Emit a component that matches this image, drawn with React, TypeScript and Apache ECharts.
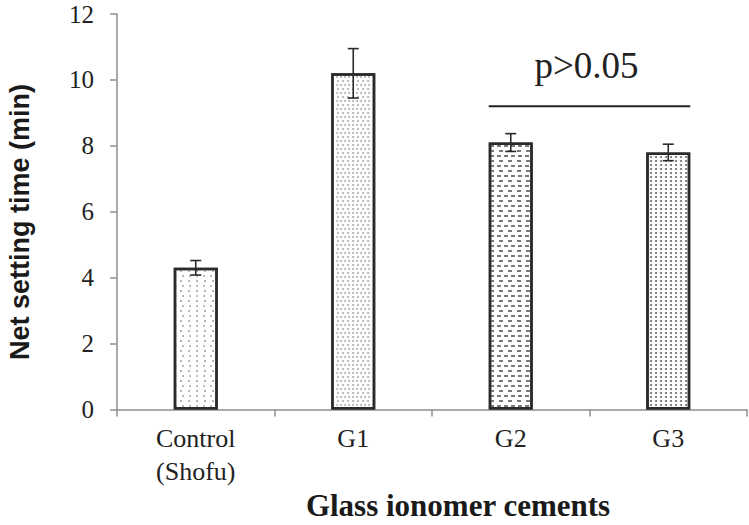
import React, { useEffect, useRef } from "react";
import * as echarts from "echarts";

const categories = ["Control\n(Shofu)", "G1", "G2", "G3"];
const means = [4.3, 10.2, 8.1, 7.8];
const errors = [0.22, 0.75, 0.27, 0.25];
const yTicks = { min: 0, max: 12, interval: 2 };
const sigLabel = "p>0.05";
const sigLevel = 9.2;
const sigFrom = 2;
const sigTo = 3;

const decals: any[] = [
  {
    symbol: "circle",
    symbolSize: 0.9,
    color: "#9a9a9a",
    backgroundColor: "#ffffff",
    dashArrayX: [
      [1.6, 5],
      [0, 3.3, 1.6, 1.7],
    ],
    dashArrayY: [1.6, 2.6],
  },
  {
    symbol: "circle",
    symbolSize: 1,
    color: "#b0b0b0",
    backgroundColor: "#e4e4e4",
    dashArrayX: [
      [1.2, 1.6],
      [0, 1.4, 1.2, 0.2],
    ],
    dashArrayY: [1.2, 1.4],
  },
  {
    symbol: "rect",
    symbolSize: 1,
    symbolKeepAspect: false,
    color: "#7a7a7a",
    backgroundColor: "#ffffff",
    dashArrayX: [
      [3.5, 3],
      [0, 3.2, 3.5, 0.3],
    ],
    dashArrayY: [1.5, 2.8],
  },
  {
    symbol: "circle",
    symbolSize: 1,
    color: "#6e6e6e",
    backgroundColor: "#f2f2f2",
    dashArrayX: [1.8, 2.6],
    dashArrayY: [1.6, 1.9],
  },
];

export default function App() {
  const ref = useRef<HTMLDivElement>(null);
  useEffect(() => {
    if (!ref.current) return;
    const chart = echarts.init(ref.current, undefined, { renderer: "svg" });
    const axisColor = "#8f8f8f";
    const barWidth = 44;
    chart.setOption({
      animation: false,
      backgroundColor: "#ffffff",
      grid: { left: 117, right: 2, top: 14, bottom: 115.5, containLabel: false },
      xAxis: {
        type: "category",
        data: categories,
        axisLine: { lineStyle: { color: axisColor, width: 1.5 } },
        axisTick: { show: true, length: 7, alignWithLabel: false, lineStyle: { color: axisColor, width: 1.5 } },
        axisLabel: {
          fontFamily: "Liberation Serif",
          fontSize: 26,
          color: "#222",
          margin: 12,
          lineHeight: 33,
          interval: 0,
        },
      },
      yAxis: {
        type: "value",
        min: yTicks.min,
        max: yTicks.max,
        interval: yTicks.interval,
        axisLine: { show: true, lineStyle: { color: axisColor, width: 1.5 } },
        axisTick: { show: true, length: 7, lineStyle: { color: axisColor, width: 1.5 } },
        splitLine: { show: false },
        axisLabel: {
          fontFamily: "Liberation Serif",
          fontSize: 25,
          color: "#222",
          margin: 23,
        },
      },
      series: [
        {
          type: "bar",
          barWidth,
          data: means.map((v, i) => ({
            value: v,
            itemStyle: {
              color: "#ffffff",
              borderColor: "#2b2b2b",
              borderWidth: 2.5,
              decal: decals[i],
            },
          })),
        },
        {
          type: "custom",
          data: means.map((v, i) => [i, v - errors[i], v + errors[i]]),
          z: 10,
          renderItem: (params: any, api: any) => {
            const x = api.value(0);
            const lo = api.coord([x, api.value(1)]);
            const hi = api.coord([x, api.value(2)]);
            const cap = 5.5;
            const style = { stroke: "#2b2b2b", lineWidth: 1.6 };
            return {
              type: "group",
              children: [
                { type: "line", shape: { x1: lo[0], y1: lo[1], x2: hi[0], y2: hi[1] }, style },
                { type: "line", shape: { x1: hi[0] - cap, y1: hi[1], x2: hi[0] + cap, y2: hi[1] }, style },
                { type: "line", shape: { x1: lo[0] - cap, y1: lo[1], x2: lo[0] + cap, y2: lo[1] }, style },
              ],
            };
          },
        },
      ],
    });

    const p1 = chart.convertToPixel({ xAxisIndex: 0 }, categories[sigFrom]) as number;
    const p2 = chart.convertToPixel({ xAxisIndex: 0 }, categories[sigTo]) as number;
    const py = chart.convertToPixel({ yAxisIndex: 0 }, sigLevel) as number;
    const x1 = p1 - barWidth / 2;
    const x2 = p2 + barWidth / 2;

    chart.setOption({
      graphic: [
        {
          type: "line",
          shape: { x1, y1: py, x2, y2: py },
          style: { stroke: "#222", lineWidth: 2 },
        },
        {
          type: "text",
          x: (x1 + x2) / 2 - 3,
          y: py - 41,
          style: {
            text: sigLabel,
            fontFamily: "Liberation Serif",
            fontSize: 37,
            fill: "#222",
            align: "center",
            verticalAlign: "middle",
          },
        },
        {
          type: "text",
          x: 458,
          y: 505,
          style: {
            text: "Glass ionomer cements",
            fontFamily: "Liberation Serif",
            fontWeight: "bold",
            fontSize: 31,
            fill: "#1a1a1a",
            align: "center",
            verticalAlign: "middle",
          },
        },
        {
          type: "text",
          x: 20,
          y: 222,
          rotation: Math.PI / 2,
          style: {
            text: "Net setting time (min)",
            fontFamily: "Liberation Sans",
            fontWeight: "bold",
            fontSize: 27,
            fill: "#1a1a1a",
            align: "center",
            verticalAlign: "middle",
          },
        },
      ],
    });

    return () => chart.dispose();
  }, []);
  return <div ref={ref} style={{ width: 749, height: 525, position: "absolute", left: 0, top: 0 }} />;
}
